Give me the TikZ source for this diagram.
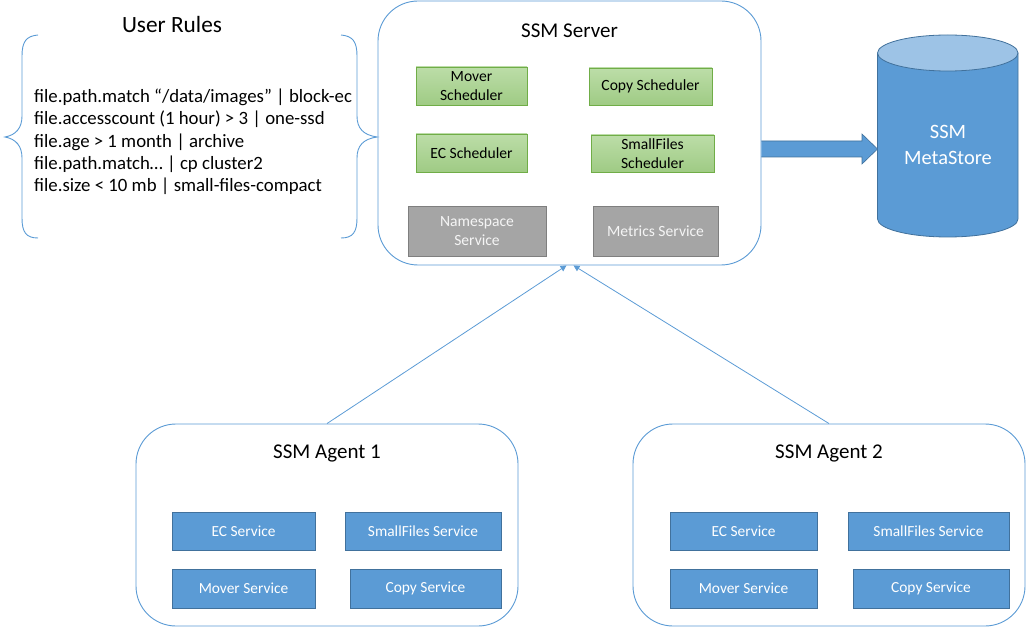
\documentclass[tikz,border=0pt]{standalone}
\usepackage{fontspec}
\setmainfont{Carlito}
\usetikzlibrary{arrows.meta}

\definecolor{lineblue}{HTML}{5B9BD5}
\definecolor{fillblue}{HTML}{5B9BD5}
\definecolor{edgeblue}{HTML}{41719C}
\definecolor{cyltop}{HTML}{9DC3E6}
\definecolor{greentop}{HTML}{BCDDA8}
\definecolor{greenbot}{HTML}{9FCB84}
\definecolor{greenedge}{HTML}{70AD47}
\definecolor{grayfill}{HTML}{A5A5A5}
\definecolor{grayedge}{HTML}{7F7F7F}

\tikzset{
  container/.style={draw=lineblue, line width=0.9pt, fill=white, rounded corners=40pt,
    minimum width=#1, inner sep=0pt},
  title/.style={font=\fontsize{21}{24}\selectfont, text=black},
  svc/.style={draw=edgeblue, line width=0.8pt, fill=fillblue, text=white,
    font=\fontsize{15.4}{18}\selectfont, inner sep=0pt, align=center},
  sched/.style={draw=greenedge, line width=0.8pt, top color=greentop, bottom color=greenbot,
    text=black, font=\fontsize{15.6}{18.5}\selectfont, inner sep=0pt, align=center},
  infra/.style={draw=grayedge, line width=0.8pt, fill=grayfill, text=white!92!gray,
    font=\fontsize{15.6}{19}\selectfont, inner sep=0pt, align=center},
  conn/.style={draw=lineblue, line width=0.8pt, -{Triangle[length=6pt,width=6pt]}},
  bracepath/.style={draw=lineblue, line width=0.9pt},
}

\begin{document}
\begin{tikzpicture}[x=1pt,y=-1pt]
\useasboundingbox (0,0) rectangle (1027,628);

% ---- SSM Server ----
\node[container=383pt, minimum height=264pt] (srv) at (569.5,133) {};
\node[title] (srvt) at (569.5,31) {SSM Server};
\node[sched, minimum width=111pt, minimum height=38pt] (movs) at (471.5,86) {Mover\\Scheduler};
\node[sched, minimum width=123pt, minimum height=37pt] (cops) at (650.5,86.5) {Copy Scheduler};
\node[sched, minimum width=111pt, minimum height=38pt] (ecs) at (471.5,153) {EC Scheduler};
\node[sched, minimum width=123pt, minimum height=37pt] (sfs) at (652.5,153.5) {SmallFiles\\Scheduler};
\node[infra, minimum width=138pt, minimum height=50pt] (nss) at (477,231) {Namespace\\Service};
\node[infra, minimum width=125pt, minimum height=50pt] (mts) at (655.5,231) {Metrics Service};

% ---- SSM MetaStore (cylinder) ----
\coordinate (ms) at (948,145);
\fill[fillblue] (877.5,53) -- (877.5,219) arc[start angle=180, end angle=360, x radius=70.25pt, y radius=18pt] -- (1018,53) -- cycle;
\draw[edgeblue, line width=0.8pt] (877.5,53) -- (877.5,219) arc[start angle=180, end angle=360, x radius=70.25pt, y radius=18pt] -- (1018,53);
\draw[edgeblue, line width=0.8pt, fill=cyltop] (947.75,53) ellipse [x radius=70.25pt, y radius=18pt];
\node[text=white, font=\fontsize{20.4}{26}\selectfont, align=center] (mst) at (ms) {SSM\\MetaStore};

% block arrow from server to metastore
\fill[fillblue] (srv.east |- 0,141) -- (862,141) -- (862,134) -- (877.5,149) -- (862,164) -- (862,157) -- (srv.east |- 0,157) -- cycle;
\draw[edgeblue, line width=0.6pt] (srv.east |- 0,141) -- (862,141) -- (862,134) -- (877.5,149) -- (862,164) -- (862,157) -- (srv.east |- 0,157);

% ---- User Rules ----
\node[title, font=\fontsize{23.3}{26}\selectfont] (urt) at (172,24) {User Rules};
\node[anchor=west, align=left, font=\fontsize{18.8}{22.3}\selectfont, inner sep=0pt] (rules) at (34,142)
  {file.path.match “/data/images” | block-ec\\
   file.accesscount (1 hour) > 3 | one-ssd\\
   file.age > 1 month | archive\\
   file.path.match… | cp cluster2\\
   file.size < 10 mb | small-files-compact};
% braces around the rules
\draw[bracepath] (38,35) .. controls (26,36) and (22,42) .. (22,56) -- (22,116)
  .. controls (22,128) and (16,135) .. (5,137)
  .. controls (16,139) and (22,146) .. (22,158) -- (22,218)
  .. controls (22,232) and (26,238) .. (38,238);
\draw[bracepath] (341,35) .. controls (353,36) and (357,42) .. (357,56) -- (357,116)
  .. controls (357,128) and (363,135) .. (377,137)
  .. controls (363,139) and (357,146) .. (357,158) -- (357,218)
  .. controls (357,232) and (353,238) .. (341,238);

% ---- SSM Agent 1 ----
\node[container=382pt, minimum height=202pt] (ag1) at (327,525) {};
\node[title] (ag1t) at (327,453) {SSM Agent 1};
\node[svc, minimum width=143pt, minimum height=38pt] (a1ec) at (243.5,531) {EC Service};
\node[svc, minimum width=156pt, minimum height=38pt] (a1sf) at (423,531.5) {SmallFiles Service};
\node[svc, minimum width=143pt, minimum height=39pt] (a1mv) at (243.5,588.5) {Mover Service};
\node[svc, minimum width=151pt, minimum height=39pt] (a1cp) at (425.5,588.5) {Copy Service};

% ---- SSM Agent 2 ----
\node[container=392pt, minimum height=202pt] (ag2) at (829,525) {};
\node[title] (ag2t) at (829,453) {SSM Agent 2};
\node[svc, minimum width=147pt, minimum height=38pt] (a2ec) at (743.5,531) {EC Service};
\node[svc, minimum width=161pt, minimum height=38pt] (a2sf) at (928.5,531.5) {SmallFiles Service};
\node[svc, minimum width=147pt, minimum height=39pt] (a2mv) at (743.5,588.5) {Mover Service};
\node[svc, minimum width=156pt, minimum height=39pt] (a2cp) at (931,588.5) {Copy Service};

% ---- agents report to the server ----
\draw[conn] (ag1.north) -- ([xshift=-3pt]srv.south);
\draw[conn] (ag2.north) -- ([xshift=4pt]srv.south);
\end{tikzpicture}
\end{document}
